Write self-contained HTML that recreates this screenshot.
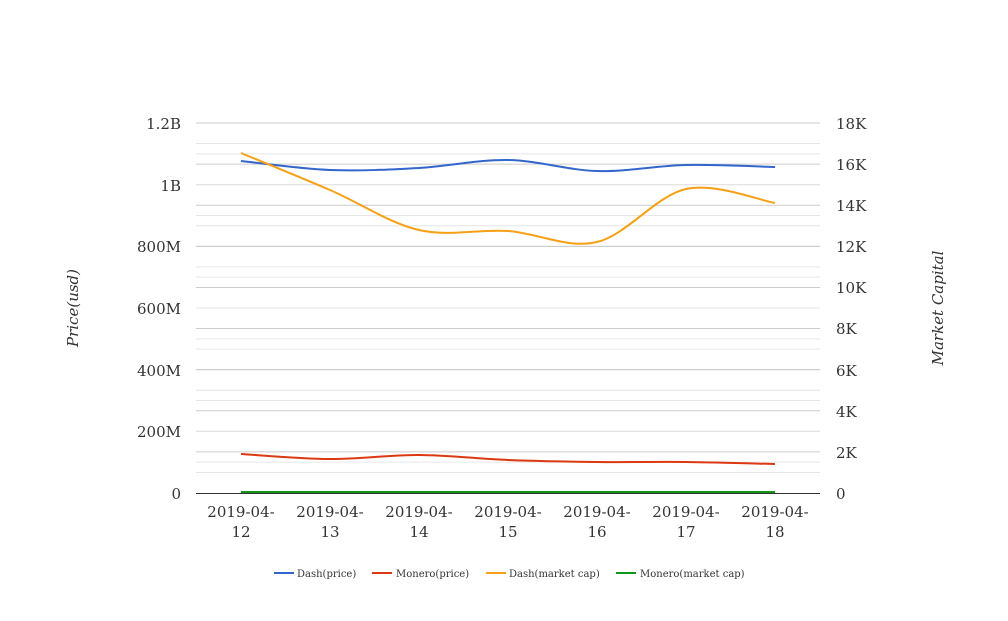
<!DOCTYPE html>
<html><head><meta charset="utf-8"><style>
body{margin:0;background:#fff;}
svg text{font-family:"DejaVu Serif",serif;fill:#333;}
</style></head><body>
<svg id="s" width="1008" height="616" xmlns="http://www.w3.org/2000/svg">
<g id="grid"></g>
<g font-size="15" text-anchor="end">
<text x="181" y="129">1.2B</text><text x="181" y="191">1B</text><text x="181" y="252">800M</text>
<text x="181" y="314">600M</text><text x="181" y="376">400M</text><text x="181" y="437">200M</text><text x="181" y="499">0</text>
</g>
<g font-size="15" text-anchor="start">
<text x="836" y="129">18K</text><text x="836" y="170">16K</text><text x="836" y="211">14K</text>
<text x="836" y="252">12K</text><text x="836" y="293">10K</text><text x="836" y="334">8K</text>
<text x="836" y="376">6K</text><text x="836" y="417">4K</text><text x="836" y="458">2K</text><text x="836" y="499">0</text>
</g>
<g font-size="15" text-anchor="middle" id="xl"></g>
<text font-size="15" font-style="italic" text-anchor="middle" transform="translate(78,308) rotate(-90)">Price(usd)</text>
<text font-size="15" font-style="italic" text-anchor="middle" transform="translate(943,308) rotate(-90)">Market Capital</text>
<g id="series" fill="none" stroke-width="2"></g>
<line x1="196" y1="493.5" x2="820" y2="493.5" stroke="#333" stroke-width="1"/>
<g font-size="10">
<line x1="274" y1="573" x2="294" y2="573" stroke="#3366cc" stroke-width="2"/><text x="297" y="577">Dash(price)</text>
<line x1="372" y1="573" x2="392" y2="573" stroke="#dc3912" stroke-width="2"/><text x="396" y="577">Monero(price)</text>
<line x1="486" y1="573" x2="506" y2="573" stroke="#f5a015" stroke-width="2"/><text x="509" y="577">Dash(market cap)</text>
<line x1="616" y1="573" x2="636" y2="573" stroke="#109618" stroke-width="2"/><text x="640" y="577">Monero(market cap)</text>
</g>
</svg>
<script>
var ns="http://www.w3.org/2000/svg";
function el(p,t,a){var e=document.createElementNS(ns,t);for(var k in a)e.setAttribute(k,a[k]);p.appendChild(e);return e;}
var g=document.getElementById("grid");
for(var i=0;i<12;i++){var y=123+i*370/12;el(g,"line",{x1:196,x2:820,y1:y,y2:y,stroke:i%2?"#e6e6e6":"#cccccc"});}
for(var i=0;i<18;i++){var y=123+i*370/18;el(g,"line",{x1:196,x2:820,y1:y,y2:y,stroke:i%2?"#e6e6e6":"#cccccc"});}
var xs=[241,330,419,508,597,686,775];
var xl=document.getElementById("xl");
xs.forEach(function(x,i){el(xl,"text",{x:x,y:517}).textContent="2019-04-";el(xl,"text",{x:x,y:537}).textContent=String(12+i);});
function path(ys){var d="M"+xs[0]+","+ys[0];for(var i=0;i<ys.length-1;i++){var p0=[xs[Math.max(i-1,0)],ys[Math.max(i-1,0)]],p1=[xs[i],ys[i]],p2=[xs[i+1],ys[i+1]],p3=[xs[Math.min(i+2,6)],ys[Math.min(i+2,6)]];
var c1=[p1[0]+(p2[0]-p0[0])/6,p1[1]+(p2[1]-p0[1])/6],c2=[p2[0]-(p3[0]-p1[0])/6,p2[1]-(p3[1]-p1[1])/6];
d+=" C"+c1+" "+c2+" "+p2;}return d;}
var s=document.getElementById("series");
el(s,"path",{d:path([492,492,492,492,492,492,492]),stroke:"#109618",fill:"none"});
el(s,"path",{d:path([454,459,455,460,462,462,464]),stroke:"#dc3912",fill:"none"});
el(s,"path",{d:path([161,170,168,160,171,165,167]),stroke:"#3366cc",fill:"none"});
el(s,"path",{d:path([153,190,230,231,242,189,203]),stroke:"#f5a015",fill:"none"});
</script>
</body></html>
